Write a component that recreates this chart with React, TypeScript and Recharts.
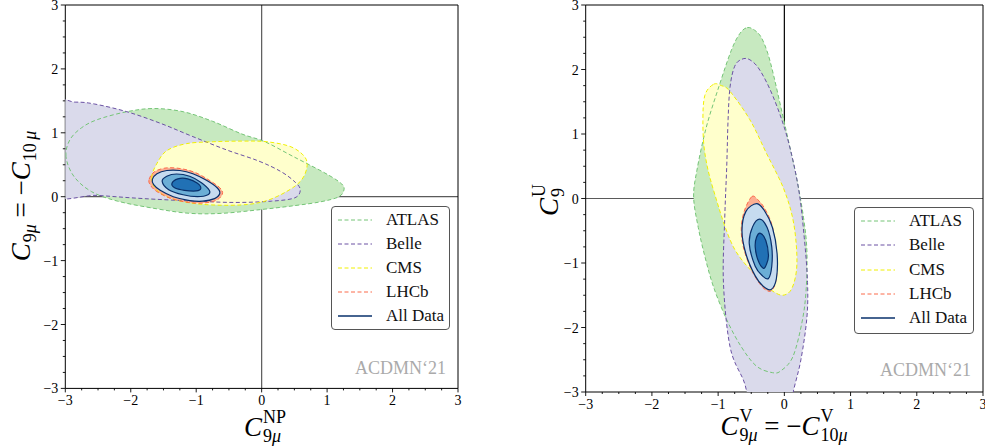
import React from 'react';
import { ScatterChart, Scatter, XAxis, YAxis, ReferenceLine } from 'recharts';

type Pt = [number, number];

// ---- axis ticks ----
const axisTicks = [-3, -2.75, -2.5, -2.25, -2, -1.75, -1.5, -1.25, -1, -0.75, -0.5, -0.25, 0, 0.25, 0.5, 0.75, 1, 1.25, 1.5, 1.75, 2, 2.25, 2.5, 2.75, 3];
const majorTicks = [-3, -2, -1, 0, 1, 2, 3];
const tickLabels = ['\u22123', '\u22122', '\u22121', '0', '1', '2', '3'];

// ---- legend ----
const legendNames = ['ATLAS', 'Belle', 'CMS', 'LHCb', 'All Data'];
const legendStrokes = ['#74c476', '#6a51a3', '#f0f000', '#fb6a4a', '#08306b'];
const legendDashed = [true, true, true, true, false];

// ---- left panel: C9mu = -C10mu vs C9mu^NP ----
const atlasLeft: Pt[] = [
  [-2.99, 0.63], [-2.93, 0.89], [-2.75, 1.08], [-2.5, 1.21], [-2.06, 1.33], [-1.65, 1.38], [-1.2, 1.33],
  [-0.75, 1.18], [-0.3, 0.98], [0.05, 0.86], [0.48, 0.63], [0.95, 0.38], [1.2, 0.22], [1.26, 0.12],
  [1.18, 0.0], [0.9, -0.08], [0.5, -0.14], [0.0, -0.2], [-0.6, -0.26], [-1.1, -0.26], [-1.6, -0.19],
  [-2.2, -0.07], [-2.6, 0.08], [-2.87, 0.32],
];
const belleLeft: Pt[] = [
  [-3.3, 1.45], [-2.85, 1.48], [-2.55, 1.45], [-2.06, 1.33], [-1.55, 1.15], [-1.05, 0.94], [-0.53, 0.73],
  [-0.05, 0.56], [0.3, 0.39], [0.52, 0.22], [0.59, 0.1], [0.5, -0.02], [0.15, -0.07], [-0.4, -0.09],
  [-1.0, -0.07], [-1.8, -0.03], [-2.5, 0.02], [-3.3, 0.08],
];
const cmsLeft: Pt[] = [
  [-1.68, 0.3], [-1.6, 0.52], [-1.45, 0.72], [-1.15, 0.83], [-0.74, 0.86], [-0.3, 0.87], [0.08, 0.86],
  [0.45, 0.78], [0.66, 0.62], [0.69, 0.45], [0.6, 0.25], [0.38, 0.08], [0.05, -0.07], [-0.33, -0.13],
  [-0.9, -0.12], [-1.35, -0.04], [-1.6, 0.1],
];
const lhcbLeft: Pt[] = [
  [-1.72, 0.27], [-1.64, 0.39], [-1.46, 0.45], [-1.24, 0.44], [-1.02, 0.38], [-0.82, 0.27], [-0.64, 0.14],
  [-0.6, 0.04], [-0.7, -0.06], [-0.9, -0.1], [-1.12, -0.09], [-1.38, -0.03], [-1.6, 0.08], [-1.7, 0.18],
];
const allOuterLeft: Pt[] = [
  [-1.67, 0.27], [-1.6, 0.36], [-1.45, 0.41], [-1.25, 0.41], [-1.05, 0.36], [-0.85, 0.26], [-0.68, 0.14],
  [-0.64, 0.05], [-0.72, -0.03], [-0.9, -0.07], [-1.1, -0.06], [-1.35, 0.0], [-1.55, 0.1], [-1.65, 0.19],
];
const allMidLeft: Pt[] = [
  [-1.52, 0.24], [-1.45, 0.32], [-1.3, 0.355], [-1.1, 0.32], [-0.92, 0.22], [-0.8, 0.1], [-0.82, 0.03],
  [-0.98, 0.0], [-1.2, 0.03], [-1.42, 0.11],
];
const allInnerLeft: Pt[] = [
  [-1.37, 0.21], [-1.28, 0.28], [-1.13, 0.28], [-0.98, 0.21], [-0.93, 0.13], [-1.0, 0.09], [-1.18, 0.1],
  [-1.33, 0.14],
];

// ---- right panel: C9^U vs C9mu^V = -C10mu^V ----
const atlasRight: Pt[] = [
  [-0.56, 2.65], [-0.45, 2.61], [-0.35, 2.5], [-0.25, 2.25], [-0.16, 1.9], [-0.06, 1.45], [0.05, 0.95],
  [0.19, 0.29], [0.29, -0.3], [0.34, -0.8], [0.33, -1.4], [0.27, -1.9], [0.13, -2.45], [-0.05, -2.67],
  [-0.18, -2.7], [-0.42, -2.6], [-0.65, -2.3], [-0.87, -1.88], [-1.07, -1.37], [-1.2, -0.9], [-1.3, -0.45],
  [-1.37, 0.02], [-1.32, 0.44], [-1.18, 1.1], [-0.99, 1.73], [-0.8, 2.3], [-0.67, 2.56],
];
const belleRight: Pt[] = [
  [-0.64, 2.16], [-0.52, 2.15], [-0.37, 1.99], [-0.17, 1.58], [0.04, 0.96], [0.21, 0.18], [0.3, -0.6],
  [0.35, -1.3], [0.34, -1.85], [0.25, -2.5], [0.14, -2.97], [0.1, -3.2], [-0.45, -3.2], [-0.62, -2.81],
  [-0.82, -2.3], [-0.92, -1.3], [-0.9, -0.3], [-0.87, 0.5], [-0.85, 1.22], [-0.82, 1.73], [-0.75, 2.05],
];
const cmsRight: Pt[] = [
  [-1.07, 1.77], [-0.95, 1.75], [-0.82, 1.66], [-0.52, 1.22], [-0.27, 0.7], [-0.01, 0.15], [0.14, -0.38],
  [0.19, -1.0], [0.12, -1.38], [-0.02, -1.5], [-0.2, -1.42], [-0.37, -1.26], [-0.77, -0.75], [-1.07, 0.13],
  [-1.2, 0.7], [-1.23, 1.2], [-1.2, 1.6],
];
const lhcbRight: Pt[] = [
  [-0.49, 0.03], [-0.4, -0.02], [-0.3, -0.15], [-0.19, -0.4], [-0.13, -0.75], [-0.11, -1.1], [-0.14, -1.33],
  [-0.22, -1.44], [-0.35, -1.35], [-0.5, -1.1], [-0.62, -0.75], [-0.65, -0.45], [-0.6, -0.18],
];
const allOuterRight: Pt[] = [
  [-0.42, -0.08], [-0.3, -0.19], [-0.18, -0.45], [-0.11, -0.85], [-0.12, -1.24], [-0.2, -1.41],
  [-0.32, -1.36], [-0.44, -1.2], [-0.58, -0.86], [-0.64, -0.5], [-0.58, -0.2],
];
const allMidRight: Pt[] = [
  [-0.37, -0.32], [-0.26, -0.45], [-0.19, -0.75], [-0.19, -1.05], [-0.24, -1.24], [-0.33, -1.2],
  [-0.44, -1.05], [-0.53, -0.7], [-0.48, -0.44],
];
const allInnerRight: Pt[] = [
  [-0.36, -0.54], [-0.28, -0.65], [-0.24, -0.88], [-0.27, -1.02], [-0.32, -1.08], [-0.4, -0.95],
  [-0.44, -0.75], [-0.42, -0.6],
];

const serif = "'Liberation Serif', 'DejaVu Serif', serif";
const dash = '4 2.5';

const FILL = {
  atlas: '#c7e9c0',
  belle: '#dadaeb',
  cms: '#ffffcc',
  lhcb: '#fcae91',
  outer: '#c6dbef',
  mid: '#6baed6',
  inner: '#2171b5',
};

const toData = (pts: Pt[]) => pts.map(([x, y]) => ({ x, y }));

// smooth closed curve through the scaled vertices (catmull-rom)
function closedPath(points: { x: number; y: number }[]) {
  const n = points.length;
  if (!n) return '';
  let d = `M${points[0].x},${points[0].y}`;
  for (let i = 0; i < n; i++) {
    const p0 = points[(i - 1 + n) % n];
    const p1 = points[i];
    const p2 = points[(i + 1) % n];
    const p3 = points[(i + 2) % n];
    const c1x = p1.x + (p2.x - p0.x) / 6;
    const c1y = p1.y + (p2.y - p0.y) / 6;
    const c2x = p2.x - (p3.x - p1.x) / 6;
    const c2y = p2.y - (p3.y - p1.y) / 6;
    d += ` C${c1x},${c1y} ${c2x},${c2y} ${p2.x},${p2.y}`;
  }
  return d + ' Z';
}

const noDot = () => <g />;

function contour(key: string, pts: Pt[], fill: string, stroke: string, dashed: boolean, width = 1) {
  return (
    <Scatter
      key={key}
      data={toData(pts)}
      shape={noDot}
      isAnimationActive={false}
      line={(p: any) => (
        <path
          d={closedPath(p.points || [])}
          fill={fill}
          stroke={stroke}
          strokeWidth={width}
          strokeDasharray={dashed ? dash : undefined}
        />
      )}
    />
  );
}

function XTick(props: any) {
  const { x, y, payload } = props;
  const i = majorTicks.indexOf(payload.value);
  const major = i >= 0;
  return (
    <g>
      <line x1={x} x2={x} y1={y} y2={y + (major ? 4 : 2)} stroke="#000" strokeWidth={0.9} />
      {major && (
        <text x={x} y={y + 17} textAnchor="middle" fontSize={14} fontFamily={serif} fill="#000">
          {tickLabels[i]}
        </text>
      )}
    </g>
  );
}

function YTick(props: any) {
  const { x, y, payload } = props;
  const i = majorTicks.indexOf(payload.value);
  const major = i >= 0;
  return (
    <g>
      <line x1={x} x2={x - (major ? 4.5 : 2.5)} y1={y} y2={y} stroke="#000" strokeWidth={0.9} />
      {major && (
        <text x={x - 7} y={y + 5} textAnchor="end" fontSize={14} fontFamily={serif} fill="#000">
          {tickLabels[i]}
        </text>
      )}
    </g>
  );
}

type PanelData = {
  atlas: Pt[];
  belle: Pt[];
  cms: Pt[];
  lhcb: Pt[];
  outer: Pt[];
  mid: Pt[];
  inner: Pt[];
};

function Panel({ d, width, yWidth, margin, vColor, hColor }: { d: PanelData; width: number; yWidth: number; margin: any; vColor: string; hColor: string }) {
  return (
    <ScatterChart width={width} height={446} margin={margin}>
      <XAxis
        type="number"
        dataKey="x"
        domain={[-3, 3]}
        ticks={axisTicks}
        interval={0}
        allowDataOverflow
        height={30}
        tickSize={0}
        tickMargin={0}
        tickLine={false}
        tick={<XTick />}
        axisLine={{ stroke: '#000', strokeWidth: 1 }}
      />
      <YAxis
        type="number"
        dataKey="y"
        domain={[-3, 3]}
        ticks={axisTicks}
        interval={0}
        allowDataOverflow
        width={yWidth}
        tickSize={0}
        tickMargin={0}
        tickLine={false}
        tick={<YTick />}
        axisLine={{ stroke: '#000', strokeWidth: 1 }}
      />
      {contour('atlasF', d.atlas, FILL.atlas, 'none', false)}
      {contour('belleF', d.belle, FILL.belle, 'none', false)}
      {contour('cmsF', d.cms, FILL.cms, 'none', false)}
      {contour('lhcbF', d.lhcb, FILL.lhcb, 'none', false)}
      {contour('atlasL', d.atlas, 'none', legendStrokes[0], true)}
      {contour('belleL', d.belle, 'none', legendStrokes[1], true)}
      {contour('cmsL', d.cms, 'none', legendStrokes[2], true)}
      {contour('lhcbL', d.lhcb, 'none', legendStrokes[3], true)}
      <ReferenceLine x={0} stroke={vColor} strokeWidth={1.2} />
      <ReferenceLine y={0} stroke={hColor} strokeWidth={1.2} />
      {contour('outer', d.outer, FILL.outer, legendStrokes[4], false, 1.2)}
      {contour('mid', d.mid, FILL.mid, legendStrokes[4], false, 1.2)}
      {contour('inner', d.inner, FILL.inner, legendStrokes[4], false, 1.2)}
      <ReferenceLine x={3} stroke="#000" strokeWidth={1} />
      <ReferenceLine y={3} stroke="#000" strokeWidth={1} />
    </ScatterChart>
  );
}

function LegendBox({ left, top, width, height }: { left: number; top: number; width: number; height: number }) {
  return (
    <div
      style={{
        position: 'absolute',
        left,
        top,
        width,
        height,
        boxSizing: 'border-box',
        border: '1px solid #555',
        borderRadius: 4,
        background: '#fff',
        fontFamily: serif,
        fontSize: 17,
        color: '#111',
      }}
    >
      {legendNames.map((name, i) => (
        <div key={name} style={{ position: 'absolute', left: 6, top: 1 + i * 24.2, height: 24, display: 'flex', alignItems: 'center' }}>
          <svg width={34} height={6} style={{ marginRight: 14 }}>
            <line
              x1={0}
              x2={34}
              y1={3}
              y2={3}
              stroke={legendStrokes[i]}
              strokeWidth={legendDashed[i] ? 1 : 1.4}
              strokeDasharray={legendDashed[i] ? '4 2.5' : undefined}
            />
          </svg>
          <span style={{ whiteSpace: 'nowrap' }}>{name}</span>
        </div>
      ))}
    </div>
  );
}

const C = () => <span style={{ fontStyle: 'italic', fontSize: 27 }}>C</span>;

function Scr({ sub, sup }: { sub: React.ReactNode; sup?: React.ReactNode }) {
  if (!sup) {
    return <span style={{ fontSize: 18, verticalAlign: -6, marginLeft: 1 }}>{sub}</span>;
  }
  return (
    <span style={{ display: 'inline-block', verticalAlign: -6, fontSize: 18, lineHeight: '19px', textAlign: 'left', marginLeft: 1 }}>
      <span style={{ display: 'block' }}>{sup}</span>
      <span style={{ display: 'block' }}>{sub}</span>
    </span>
  );
}

const nineMu = (
  <>
    9<i>μ</i>
  </>
);
const tenMu = (
  <>
    10<i>μ</i>
  </>
);

function MathLabel({ cx, cy, rotate, children }: { cx: number; cy: number; rotate?: boolean; children: React.ReactNode }) {
  return (
    <div
      style={{
        position: 'absolute',
        left: cx,
        top: cy,
        transform: `translate(-50%, -50%)${rotate ? ' rotate(-90deg)' : ''}`,
        whiteSpace: 'nowrap',
        fontFamily: serif,
        fontSize: 27,
        lineHeight: '34px',
        color: '#000',
      }}
    >
      {children}
    </div>
  );
}

const watermark: React.CSSProperties = {
  position: 'absolute',
  fontFamily: serif,
  fontSize: 18,
  color: '#aaaaaa',
  whiteSpace: 'nowrap',
};

export default function App() {
  const left: PanelData = {
    atlas: atlasLeft,
    belle: belleLeft,
    cms: cmsLeft,
    lhcb: lhcbLeft,
    outer: allOuterLeft,
    mid: allMidLeft,
    inner: allInnerLeft,
  };
  const right: PanelData = {
    atlas: atlasRight,
    belle: belleRight,
    cms: cmsRight,
    lhcb: lhcbRight,
    outer: allOuterRight,
    mid: allMidRight,
    inner: allInnerRight,
  };
  return (
    <div style={{ position: 'absolute', left: 0, top: 0, width: 985, height: 446, background: '#fff', overflow: 'hidden' }}>
      <div style={{ position: 'absolute', left: 0, top: 0 }}>
        <Panel d={left} width={470} yWidth={65.3} margin={{ top: 5, right: 12, bottom: 27.6, left: 0 }} vColor="#5a5a5a" hColor="#5a5a5a" />
      </div>
      <div style={{ position: 'absolute', left: 520, top: 0 }}>
        <Panel d={right} width={465} yWidth={65.7} margin={{ top: 5, right: 2, bottom: 24, left: 0 }} vColor="#000" hColor="#5a5a5a" />
      </div>

      <LegendBox left={331} top={205.7} width={119} height={124.3} />
      <LegendBox left={854} top={207.3} width={120} height={127} />

      <div style={{ ...watermark, right: 985 - 446, top: 358 }}>ACDMN‘21</div>
      <div style={{ ...watermark, right: 985 - 971, top: 360 }}>ACDMN‘21</div>

      <MathLabel cx={265} cy={427}>
        <C />
        <Scr sup="NP" sub={nineMu} />
      </MathLabel>
      <MathLabel cx={25} cy={196} rotate>
        <C />
        <Scr sub={nineMu} />
        {' = \u2212'}
        <C />
        <Scr sub={<>10&thinsp;<i>μ</i></>} />
      </MathLabel>
      <MathLabel cx={784} cy={426}>
        <C />
        <Scr sup="V" sub={nineMu} />
        {' = \u2212'}
        <C />
        <Scr sup="V" sub={tenMu} />
      </MathLabel>
      <MathLabel cx={549} cy={200} rotate>
        <C />
        <Scr sup="U" sub="9" />
      </MathLabel>
    </div>
  );
}
